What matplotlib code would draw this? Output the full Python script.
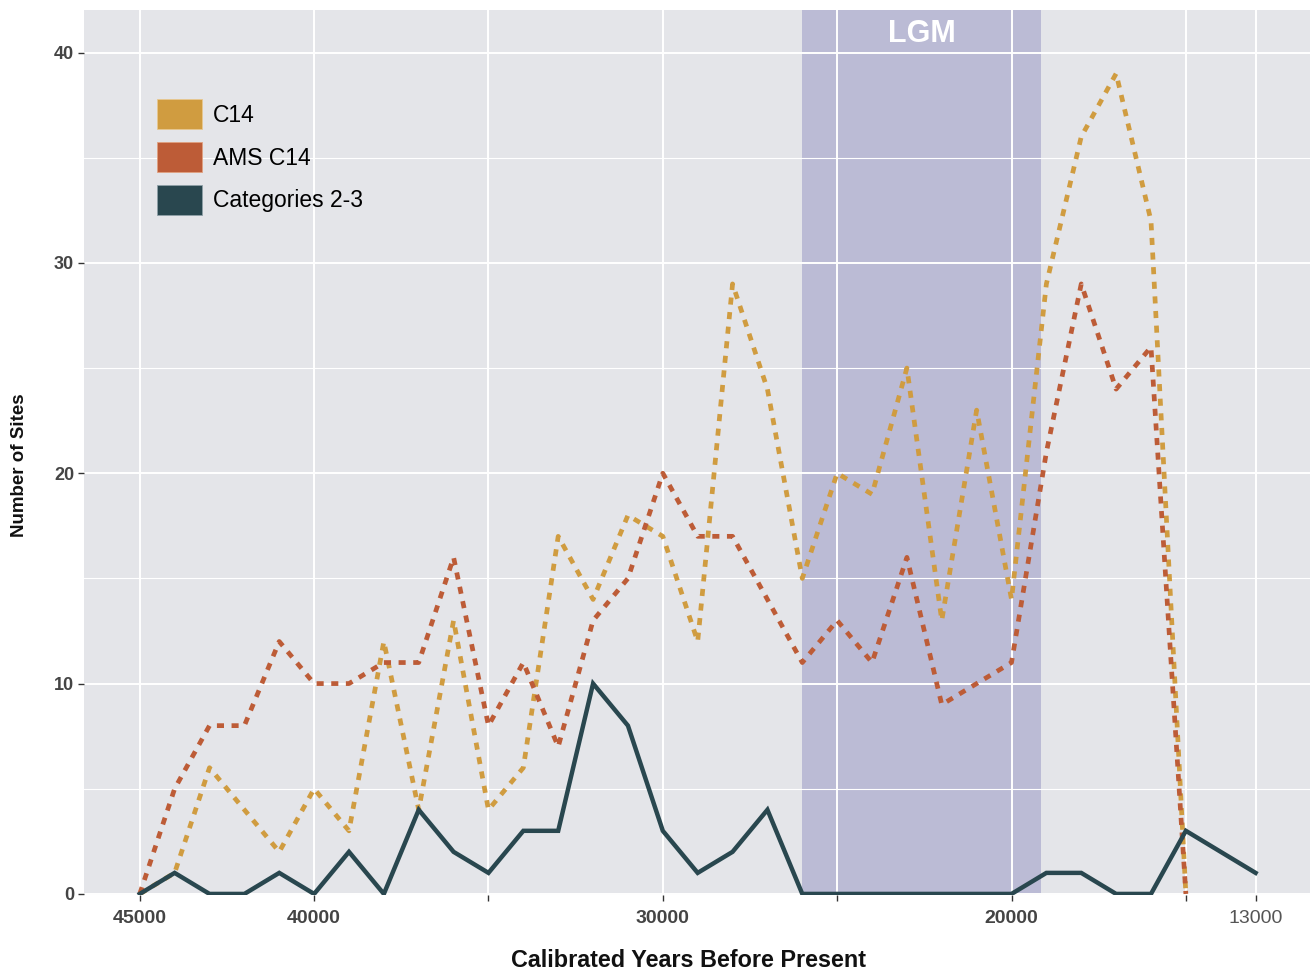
import matplotlib
matplotlib.use("Agg")
import matplotlib.pyplot as plt
from matplotlib.patches import Patch

plt.rcParams['font.family'] = ['Liberation Sans', 'DejaVu Sans']

# years (cal BP), one value every 1000 years
years_c14 = list(range(45000, 14000, -1000))    # 45000 .. 15000
years_cat = list(range(45000, 12000, -1000))    # 45000 .. 13000

c14 = [0, 1, 6, 4, 2, 5, 3, 12, 4, 13, 4, 6, 17, 14, 18, 17, 12, 29, 24, 15,
       20, 19, 25, 13, 23, 14, 29, 36, 39, 32, 0]
ams_c14 = [0, 5, 8, 8, 12, 10, 10, 11, 11, 16, 8, 11, 7, 13, 15, 20, 17, 17, 14, 11,
           13, 11, 16, 9, 10, 11, 21, 29, 24, 26, 0]
categories = [0, 1, 0, 0, 1, 0, 2, 0, 4, 2, 1, 3, 3, 10, 8, 3, 1, 2, 4, 0,
              0, 0, 0, 0, 0, 0, 1, 1, 0, 0, 3, 2, 1]

lgm_start = 26000
lgm_end = 19150

x_ticks = [45000, 40000, 35000, 30000, 25000, 20000, 15000, 13000]
x_labels = ['45000', '40000', '', '30000', '', '20000', '', '13000']
y_ticks = [0, 10, 20, 30, 40]

col_c14 = '#D09C40'
col_ams = '#BD5C37'
col_cat = '#29474F'

fig = plt.figure(figsize=(13.1, 9.71), dpi=100)
ax = fig.add_axes([0.0641, 0.0783, 0.9359, 0.9109])
ax.set_facecolor('#E4E5E9')
for s in ax.spines.values():
    s.set_visible(False)

# LGM band
ax.axvspan(lgm_start, lgm_end, color='#BBBBD5', zorder=0.3, lw=0)
ax.text((lgm_start + lgm_end) / 2, 40.9, 'LGM', color='white', fontsize=22,
        fontweight='bold', ha='center', va='center', zorder=5)

# grid
ax.set_axisbelow(True)
ax.set_yticks([5, 15, 25, 35], minor=True)
ax.grid(which='major', color='white', lw=1.4)
ax.grid(which='minor', axis='y', color='white', lw=0.8)

dots = (0, (1.5, 1.6))
ax.plot(years_c14, c14, color=col_c14, lw=3.4, ls=dots, zorder=3)
ax.plot(years_c14, ams_c14, color=col_ams, lw=3.4, ls=dots, zorder=3.5)
ax.plot(years_cat, categories, color=col_cat, lw=3.2, zorder=4,
        solid_joinstyle='miter')

ax.set_xlim(46600, 11440)
ax.set_ylim(-0.05, 42)

ax.set_xticks(x_ticks)
ax.set_xticklabels(x_labels)
ax.set_yticks(y_ticks)
ax.tick_params(axis='both', which='major', length=4, width=1, color='#333333',
               labelcolor='#444444')
ax.tick_params(axis='x', labelsize=14, pad=7)
ax.tick_params(axis='y', labelsize=13, pad=3)
ax.tick_params(axis='both', which='minor', length=0)
for lab in ax.get_yticklabels():
    lab.set_fontweight('bold')
for lab in ax.get_xticklabels():
    if lab.get_text() == '13000':
        lab.set_color('#555555')
    else:
        lab.set_fontweight('bold')

fig.text(689 / 1310, 1 - 960 / 971, 'Calibrated Years Before Present',
         fontsize=16.8, fontweight='bold', ha='center', va='center', color='#111111')
fig.text(20 / 1310, 1 - 465 / 971, 'Number of Sites', fontsize=13.5,
         fontweight='bold', rotation=90, ha='center', va='center', color='#111111')

handles = [Patch(facecolor=col_c14, edgecolor='#E8C890', lw=0.6),
           Patch(facecolor=col_ams, edgecolor='#E0A080', lw=0.6),
           Patch(facecolor=col_cat, edgecolor='#8FA0A8', lw=0.6)]
ax.legend(handles, ['C14', 'AMS C14', 'Categories 2-3'], loc='upper left',
          bbox_to_anchor=(0.0595, 0.8995), frameon=False, fontsize=16.5,
          handlelength=1.96, handleheight=1.64, handletextpad=0.48,
          labelspacing=0.55, borderaxespad=0, borderpad=0)

fig.savefig('out.png', dpi=100)
